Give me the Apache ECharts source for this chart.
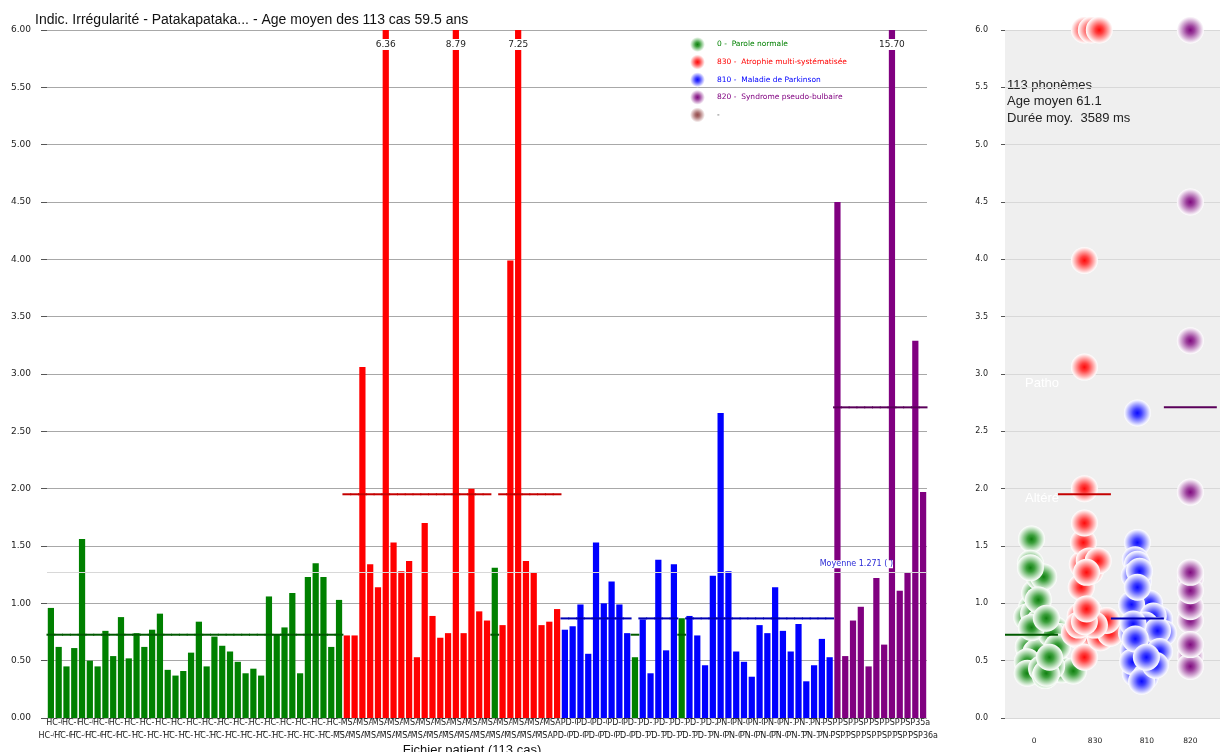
<!DOCTYPE html>
<html>
<head>
<meta charset="utf-8">
<title>Indic. Irrégularité - Patakapataka</title>
<script src="https://cdn.jsdelivr.net/npm/echarts@6/dist/echarts.min.js"></script>
<style>
  html, body { margin: 0; padding: 0; background: #fff; }
  #chart { width: 1220px; height: 752px; }
</style>
</head>
<body>
<div id="chart"></div>
<script>
// Données (113 fichiers patient)

var fileNames = [
  'HC-01', 'HC-02', 'HC-03', 'HC-04', 'HC-05', 'HC-06', 'HC-07', 'HC-08', 'HC-09', 'HC-10',
  'HC-11', 'HC-12', 'HC-13', 'HC-14', 'HC-15', 'HC-16', 'HC-17', 'HC-18', 'HC-19', 'HC-20',
  'HC-21', 'HC-22', 'HC-23', 'HC-24', 'HC-25', 'HC-26', 'HC-27', 'HC-28', 'HC-29', 'HC-30',
  'HC-31', 'HC-32', 'HC-33', 'HC-34', 'HC-35', 'HC-36', 'HC-37', 'HC-38', 'MSA01', 'MSA02',
  'MSA03', 'MSA04', 'MSA05', 'MSA06', 'MSA07', 'MSA08', 'MSA09', 'MSA10', 'MSA11', 'MSA12',
  'MSA13', 'MSA14', 'MSA15', 'MSA16', 'MSA17', 'MSA18', 'MSA19', 'MSA20', 'MSA21', 'MSA22',
  'MSA23', 'MSA24', 'MSA25', 'MSA26', 'MSA27', 'MSA28', 'PD-01', 'PD-02', 'PD-03', 'PD-04',
  'PD-05', 'PD-06', 'PD-07', 'PD-08', 'PD-09', 'PD-10', 'PD-11', 'PD-12', 'PD-13', 'PD-14',
  'PD-15', 'PD-16', 'PD-17', 'PD-18', 'PD-19', 'PD-20', 'PN-01', 'PN-02', 'PN-03', 'PN-04',
  'PN-05', 'PN-06', 'PN-07', 'PN-08', 'PN-09', 'PN-10', 'PN-11', 'PN-12', 'PN-13', 'PN-14',
  'PN-15', 'PSP25a', 'PSP26a', 'PSP27a', 'PSP28a', 'PSP29a', 'PSP30a', 'PSP31a', 'PSP32a', 'PSP33a',
  'PSP34a', 'PSP35a', 'PSP36a'
];

var irregValues = [
  0.96, 0.62, 0.45, 0.61, 1.56, 0.50, 0.45, 0.76, 0.54, 0.88,
  0.52, 0.74, 0.62, 0.77, 0.91, 0.42, 0.37, 0.41, 0.57, 0.84,
  0.45, 0.71, 0.63, 0.58, 0.49, 0.39, 0.43, 0.37, 1.06, 0.73,
  0.79, 1.09, 0.39, 1.23, 1.35, 1.23, 0.62, 1.03, 0.72, 0.72,
  3.06, 1.34, 1.14, 6.36, 1.53, 1.28, 1.37, 0.53, 1.70, 0.89,
  0.70, 0.74, 8.79, 0.74, 2.00, 0.93, 0.85, 1.31, 0.81, 3.99,
  7.25, 1.37, 1.27, 0.81, 0.84, 0.95, 0.77, 0.80, 0.99, 0.56,
  1.53, 1.00, 1.19, 0.99, 0.74, 0.53, 0.86, 0.39, 1.38, 0.59,
  1.34, 0.87, 0.89, 0.72, 0.46, 1.24, 2.66, 1.28, 0.58, 0.49,
  0.36, 0.81, 0.74, 1.14, 0.76, 0.58, 0.82, 0.32, 0.46, 0.69,
  0.53, 4.50, 0.54, 0.85, 0.97, 0.45, 1.22, 0.64, 15.70, 1.11,
  1.27, 3.29, 1.97
];

// groupe de chaque fichier : G = 0, R = 830, B = 810, P = 820
var fileGroups =
  'GGGGGGGGGG' + 'GGGGGGGGGG' + 'GGGGGGGGGG' + 'GGGGGGGGRR' +
  'RRRRRRRRRR' + 'RRRRRRRGRR' + 'RRRRRRBBBB' + 'BBBBBGBBBB' +
  'BGBBBBBBBB' + 'BBBBBBBBBB' + 'BPPPPPPPPP' + 'PPP';

// décalage horizontal des points (nuage de droite), en largeur de colonne
var scatterJitter = [
  0, 0.09, -0.06, 0.23, 0, 0.04, 0.15, 0.08, -0.04, -0.09,
  0.42, 0.19, -0.06, 0.45, 0.04, 0.57, 0.26, 0.79, 0.08, 0.15,
  0.38, 0.53, 0.30, 0.11, -0.08, -0.08, 0.19, 0.26, 0.11, 0.38,
  0, 0.06, 0.28, 0.15, -0.02, 0.23, 0.49, 0.13, -0.11, 0.15,
  0, -0.04, -0.06, 0, -0.02, 0.11, 0.09, 0, 0, -0.08,
  0.30, 0.49, 0.13, -0.19, 0, 0.08, 0.42, -0.02, 0.19, 0,
  0.28, 0.26, 0.04, -0.11, 0, 0.04, 0, 0.26, 0.08, 0.08,
  0, 0.23, 0.02, -0.11, -0.11, 0.34, 0.42, -0.04, -0.04, -0.08,
  0, 0.28, 0.30, 0.19, 0.11, -0.06, 0, 0.04, 0.26, -0.09,
  0.15, 0.15, 0.49, 0, 0.38, 0.42, -0.08, 0.08, 0.34, -0.04,
  0.17, 0, 0, 0, 0, 0, 0, 0, 0, 0,
  0, 0, 0
];

var groupKeys = ['G', 'R', 'B', 'P'];
var groupCodes = ['0', '830', '810', '820'];
var groupNames = [
  '0 -  Parole normale',
  '830 -  Atrophie multi-systématisée',
  '810 -  Maladie de Parkinson',
  '820 -  Syndrome pseudo-bulbaire'
];

var groupColors = ['#008000', '#ff0000', '#0000ff', '#800080'];
var meanColors = ['#005a00', '#c40000', '#0000b4', '#5a005a'];
var dotStops = [
  ['#0f7f0f', '#3c9f3c', '#a2d2a2', '#e8f4e8'],
  ['#ff0a0a', '#ff4040', '#ffa2a2', '#ffe9e9'],
  ['#0a0aff', '#4040ff', '#a2a2ff', '#e9e9ff'],
  ['#7f0a7f', '#9c409c', '#cfa2cf', '#f3e8f3'],
  ['#7a1e1e', '#924848', '#c9a0a0', '#f0e4e4']
];
var yMax = 6;
// position des étiquettes de groupe sous le nuage de points
var codeLabelPos = [0.55, 1.7, 2.68, 3.5];

function radial(s) {
  return {
    type: 'radial', x: 0.5, y: 0.5, r: 0.5,
    colorStops: [
      { offset: 0, color: s[0] },
      { offset: 0.3, color: s[1] },
      { offset: 0.65, color: s[2] },
      { offset: 0.9, color: s[3] },
      { offset: 1, color: '#ffffff' }
    ]
  };
}

var groupIdx = irregValues.map(function (v, i) {
  return groupKeys.indexOf(fileGroups.charAt(i));
});

// moyennes par groupe et moyenne générale
var groupMeans = groupKeys.map(function (k, g) {
  var s = 0, n = 0;
  irregValues.forEach(function (v, i) {
    if (groupIdx[i] === g) { s += v; n++; }
  });
  return s / n;
});
var overallMean = irregValues.reduce(function (a, b) { return a + b; }, 0) / irregValues.length;

var barData = irregValues.map(function (v, i) {
  return {
    value: v,
    itemStyle: { color: groupColors[groupIdx[i]] },
    label: { show: v > yMax }
  };
});

var barMeanData = irregValues.map(function (v, i) {
  var g = groupIdx[i];
  return { value: [i, groupMeans[g]], itemStyle: { color: meanColors[g] } };
});

var scatterSeries = groupKeys.map(function (k, g) {
  var pts = [];
  irregValues.forEach(function (v, i) {
    if (groupIdx[i] === g) pts.push([g + 0.5 + scatterJitter[i], Math.min(v, yMax)]);
  });
  return {
    type: 'scatter',
    name: groupNames[g],
    xAxisIndex: 2,
    yAxisIndex: 1,
    symbol: 'circle',
    symbolSize: 27,
    clip: false,
    itemStyle: { color: radial(dotStops[g]), opacity: 1 },
    emphasis: { disabled: true },
    data: pts
  };
});

// zones "Patho" / "Altéré"
scatterSeries[0].markLine = {
  silent: true,
  symbol: 'none',
  lineStyle: { color: 'rgba(0,0,0,0)', width: 1 },
  label: {
    position: 'insideStartBottom',
    formatter: '{b}',
    color: '#ffffff',
    fontSize: 13,
    fontFamily: 'Liberation Sans',
    distance: [20, 3]
  },
  data: [{ yAxis: 3, name: 'Patho' }, { yAxis: 2, name: 'Altéré' }]
};

scatterSeries.push({
  type: 'scatter',
  name: '-',
  xAxisIndex: 2,
  yAxisIndex: 1,
  symbolSize: 27,
  itemStyle: { color: radial(dotStops[4]) },
  data: []
});

// segment de moyenne du groupe, sur toute la largeur de la colonne
function renderBarMean(params, api) {
  var p = api.coord([api.value(0), api.value(1)]);
  var w = api.size([1, 0])[0];
  return {
    type: 'rect',
    shape: { x: p[0] - w / 2 - 0.5, y: p[1] - 1, width: w + 1, height: 2 },
    style: { fill: api.visual('color') },
    z2: 100
  };
}

function renderGroupMean(params, api) {
  var p1 = api.coord([api.value(0), api.value(1)]);
  var p2 = api.coord([api.value(0) + 1, api.value(1)]);
  return {
    type: 'rect',
    shape: { x: p1[0], y: p1[1] - 1, width: p2[0] - p1[0], height: 2 },
    style: { fill: api.visual('color') },
    z2: 100
  };
}

function rowLabels(row) {
  return function (v, i) { return i % 2 === row ? v : ''; };
}

var labelCfg = {
  interval: 0,
  fontSize: 8,
  color: '#222',
  backgroundColor: '#ffffff'
};

var chart = echarts.init(document.getElementById('chart'));

var option = {
  animation: false,
  backgroundColor: '#ffffff',
  textStyle: { fontFamily: 'DejaVu Sans' },
  title: {
    text: 'Indic. Irrégularité - Patakapataka... - Age moyen des 113 cas 59.5 ans',
    left: 30,
    top: 8,
    textStyle: { fontFamily: 'Liberation Sans', fontSize: 14, fontWeight: 'normal', color: '#111' }
  },
  legend: {
    orient: 'vertical',
    left: 685,
    top: 32,
    itemWidth: 15,
    itemHeight: 15,
    itemGap: 2.6,
    icon: 'circle',
    selectedMode: false,
    textStyle: { fontSize: 7.5, fontFamily: 'DejaVu Sans', padding: [0, 0, 0, 7] },
    data: groupNames.map(function (n, g) {
      return { name: n, textStyle: { color: groupColors[g] } };
    }).concat([{ name: '-', textStyle: { color: '#444' } }])
  },
  graphic: [{
    type: 'text',
    left: 1007,
    top: 77,
    style: {
      text: fileNames.length + ' phonèmes\nAge moyen 61.1\nDurée moy.  3589 ms',
      font: '13px "Liberation Sans"',
      fill: '#222',
      lineHeight: 16.5
    }
  }],
  grid: [
    { left: 47, right: 293, top: 30, bottom: 34, containLabel: false, outerBoundsMode: 'none' },
    {
      left: 1005, right: 0, top: 30, bottom: 34, containLabel: false, outerBoundsMode: 'none',
      show: true, backgroundColor: '#efefef', borderWidth: 0
    }
  ],
  xAxis: [
    {
      type: 'category',
      gridIndex: 0,
      position: 'bottom',
      data: fileNames,
      axisLine: { show: false },
      axisTick: { show: false },
      axisLabel: Object.assign({ formatter: rowLabels(1), margin: 1 }, labelCfg),
      name: 'Fichier patient (113 cas)',
      nameLocation: 'middle',
      nameGap: 26,
      nameTextStyle: { fontFamily: 'Liberation Sans', fontSize: 13, color: '#111', padding: [0, 30, 0, 0] }
    },
    {
      type: 'category',
      gridIndex: 0,
      position: 'bottom',
      data: fileNames,
      axisLine: { show: false },
      axisTick: { show: false },
      axisLabel: Object.assign({ formatter: rowLabels(0), margin: 14 }, labelCfg)
    },
    {
      type: 'value',
      gridIndex: 1,
      min: 0,
      max: 4.06,
      axisLine: { show: false },
      axisTick: { show: false },
      splitLine: { show: false },
      axisLabel: {
        customValues: codeLabelPos,
        formatter: function (v) {
          for (var k = 0; k < codeLabelPos.length; k++) {
            if (Math.abs(codeLabelPos[k] - v) < 0.01) return groupCodes[k];
          }
          return '';
        },
        showMinLabel: true,
        showMaxLabel: true,
        margin: 19,
        fontSize: 7.5,
        color: '#222'
      }
    }
  ],
  yAxis: [
    {
      type: 'value',
      gridIndex: 0,
      min: 0,
      max: yMax,
      interval: 0.5,
      axisLine: { show: false },
      axisTick: { show: true, length: 6, lineStyle: { color: '#555' } },
      axisLabel: { formatter: function (v) { return v.toFixed(2); }, margin: 16, fontSize: 9, color: '#222' },
      splitLine: { lineStyle: { color: '#a8a8a8', width: 1 } }
    },
    {
      type: 'value',
      gridIndex: 1,
      min: 0,
      max: yMax,
      interval: 0.5,
      axisLine: { show: false },
      axisTick: { show: true, length: 4, lineStyle: { color: '#555' } },
      axisLabel: { formatter: function (v) { return v.toFixed(1); }, margin: 17, fontSize: 8, color: '#222' },
      splitLine: { lineStyle: { color: '#d8d8d8', width: 1 } }
    }
  ],
  series: [
    {
      type: 'bar',
      xAxisIndex: 0,
      yAxisIndex: 0,
      barCategoryGap: '20%',
      data: barData,
      emphasis: { disabled: true },
      label: {
        position: 'insideTop',
        distance: 9,
        color: '#222',
        fontSize: 9,
        backgroundColor: '#ffffff',
        padding: [1, 0],
        formatter: function (p) { return p.value.toFixed(2); }
      },
      markLine: {
        silent: true,
        symbol: 'none',
        lineStyle: { color: '#d8d8d8', width: 1, type: 'solid' },
        label: {
          position: 'insideEndTop',
          formatter: 'Moyenne ' + overallMean.toFixed(3) + ' ( )',
          color: '#2a2ad6',
          fontSize: 8,
          backgroundColor: '#ffffff',
          distance: [34, 4]
        },
        data: [{ yAxis: overallMean }]
      }
    },
    {
      type: 'custom',
      xAxisIndex: 0,
      yAxisIndex: 0,
      z: 10,
      zlevel: 1,
      renderItem: renderBarMean,
      encode: { x: 0, y: 1 },
      silent: true,
      data: barMeanData
    }
  ].concat(scatterSeries).concat([
    {
      type: 'custom',
      xAxisIndex: 2,
      yAxisIndex: 1,
      z: 10,
      zlevel: 1,
      renderItem: renderGroupMean,
      encode: { x: 0, y: 1 },
      silent: true,
      data: groupMeans.map(function (m, g) {
        return { value: [g, m], itemStyle: { color: meanColors[g] } };
      })
    }
  ])
};

chart.setOption(option);

window.addEventListener('resize', function () {
  chart.resize();
});
</script>
</body>
</html>
